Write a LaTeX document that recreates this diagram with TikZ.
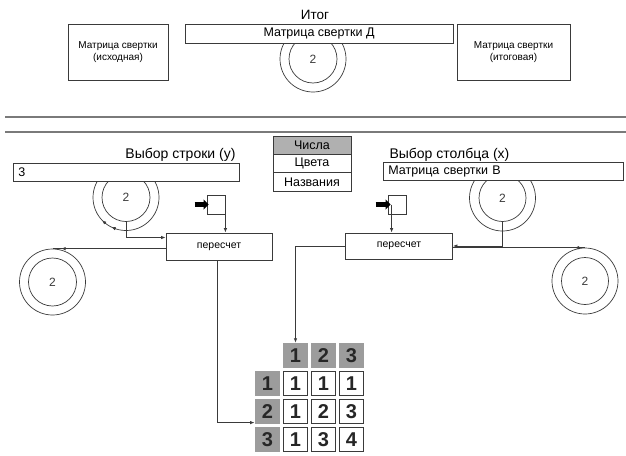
\documentclass[tikz,border=0pt]{standalone}
\usepackage{fontspec}
\setmainfont{Liberation Sans}
\usetikzlibrary{arrows.meta,calc}
\definecolor{ink}{HTML}{3A3A3A}
\definecolor{cellgray}{HTML}{9C9C9C}
\definecolor{rulegray}{HTML}{7A7A7A}
\begin{document}
\begin{tikzpicture}[x=1pt,y=-1pt,
  fs/.style={font=\fontsize{#1}{#1}\selectfont},
  frame/.style={draw=ink, line width=0.8pt, fill=white, inner sep=0pt},
  ring/.style={circle, draw=ink, line width=0.7pt, inner sep=0pt},
  knob/.style={fs=12, text=ink},
  link/.style={draw=ink, line width=0.8pt},
  arr/.style={draw=ink, line width=0.8pt, -{Latex[length=4.5pt,width=3.5pt]}},
  tipmark/.style={draw=ink, line width=0.8pt, -{Latex[length=4pt,width=3.5pt]}},
  fat/.style={draw=black, line width=5pt, -{Triangle[length=5pt,width=10pt]}},
  hd/.style={fill=cellgray, minimum width=25.5pt, minimum height=25pt, inner sep=0pt,
             font=\fontsize{20}{20}\selectfont\bfseries, text=black!85},
  cell/.style={draw=ink, line width=1.4pt, fill=white, minimum width=24pt, minimum height=23.5pt,
             inner sep=0pt, font=\fontsize{20}{20}\selectfont\bfseries, text=black!85},
  legend/.style={draw=ink, line width=0.8pt, minimum width=78pt, minimum height=18.3pt,
             inner sep=0pt, fs=12.5}
]
\useasboundingbox (0,0) rectangle (626,455);

% ---------- summary panel ----------
\node[fs=13.5] (itog) at (315,15) {Итог};
\node[ring, minimum size=66pt] (c0o) at (313,59) {};
\node[ring, minimum size=48pt, knob] (c0i) at (313,59) {2};
\node[frame, minimum width=268pt, minimum height=19pt, fs=12.5] (mD) at (319,33.5) {Матрица свертки Д};
\node[frame, minimum width=100pt, minimum height=56pt, fs=10, align=center] (src) at (118,52)
  {Матрица свертки\\[2pt](исходная)};
\node[frame, minimum width=113pt, minimum height=56pt, fs=10, align=center] (dst) at (513.5,52)
  {Матрица свертки\\[2pt](итоговая)};

% ---------- separator ----------
\draw[rulegray, line width=1.8pt] (5,117) -- (626,117);
\draw[rulegray, line width=1.8pt] (5,132) -- (626,132);

% ---------- legend ----------
\node[legend, fill=cellgray!80] (lg1) at (312,145.2) {Числа};
\node[legend, fill=white] (lg2) at (312,163.5) {Цвета};
\node[legend, fill=white] (lg3) at (312,181.8) {Названия};

% ---------- row selector ----------
\node[fs=14, anchor=east] (rowlbl) at (239,155) {Выбор строки (y)};
\node[ring, minimum size=66pt] (cL1o) at (126,197.5) {};
\node[ring, minimum size=48pt, knob] (cL1i) at (126,197.5) {2};
\node[frame, minimum width=226pt, minimum height=18pt, fs=12.5, anchor=west,
      text width=222pt, align=left] (rowbox) at (13,172) {\hspace{3pt}3};
\node[frame, minimum width=106pt, minimum height=27pt, fs=10.5] (pL) at (219,246.5) {пересчет};
\node[frame, minimum width=18pt, minimum height=19pt] (sL) at (216,204.5) {};
\node[ring, minimum size=66pt] (cL2o) at (52.5,282) {};
\node[ring, minimum size=48pt, knob] (cL2i) at (52.5,282) {2};

% ---------- column selector ----------
\node[fs=14, anchor=west] (collbl) at (386,155) {Выбор столбца (x)};
\node[ring, minimum size=66pt] (cR1o) at (502.5,198) {};
\node[ring, minimum size=47pt, knob] (cR1i) at (502.5,198) {2};
\node[frame, minimum width=240pt, minimum height=17.5pt, fs=12.5, anchor=west,
      text width=236pt, align=left] (colbox) at (383,171.5) {\hspace{3pt}Матрица свертки В};
\node[frame, minimum width=107pt, minimum height=26pt, fs=10.5] (pR) at (399,246) {пересчет};
\node[frame, minimum width=18pt, minimum height=19pt] (sR) at (397,204.5) {};
\node[ring, minimum size=66pt] (cR2o) at (585,281) {};
\node[ring, minimum size=47pt, knob] (cR2i) at (585,281) {2};

% ---------- result table ----------
\foreach \j/\v in {1/1,2/2,3/3}
  \node[hd] (h\j) at ({267.5+28*\j},355.5) {\v};
\foreach \i in {1,2,3}
  \node[hd] (r\i) at (267.5,{355.5+28*\i}) {\i};
\foreach \i/\a/\b/\c in {1/1/1/1,2/1/2/3,3/1/3/4}{
  \node[cell] (m\i1) at (295.5,{355.5+28*\i}) {\a};
  \node[cell] (m\i2) at (323.5,{355.5+28*\i}) {\b};
  \node[cell] (m\i3) at (351.5,{355.5+28*\i}) {\c};
}

% ---------- connectors: row side ----------
\draw[fat] ([xshift=-12pt]sL.west) -- ([xshift=2pt]sL.west);
\draw[arr] (sL.east) -- (sL.east |- pL.north);
\draw[arr] (cL1i.south) |- ([yshift=9pt]pL.west);
\draw[link] (pL.west |- cL2o.north) -- (cL2o.north);
\draw[tipmark] ([xshift=16pt]cL2o.north) -- ([xshift=9pt]cL2o.north);
\draw[arr] ([xshift=-2pt]pL.south) |- ([yshift=1.6pt]r2.south west);
\draw[tipmark] ([shift={(128:33)}]cL1o.center) -- ([shift={(136:33)}]cL1o.center);
\draw[tipmark] ([shift={(108:33)}]cL1o.center) -- ([shift={(116:33)}]cL1o.center);

% ---------- connectors: column side ----------
\draw[fat] ([xshift=-12pt]sR.west) -- ([xshift=3pt]sR.west);
\draw[arr] ([xshift=4pt]sR.west) -- ([xshift=4pt]sR.west |- pR.north);
\draw[arr] (cR1i.south) |- (pR.east);
\draw[link] (pR.east |- cR2o.north) -- (cR2o.north);
\draw[tipmark] ([xshift=-3pt]cR2o.north) -- ([xshift=-10pt]cR2o.north);
\draw[arr] (pR.west) -| (h1.north);
\end{tikzpicture}
\end{document}
